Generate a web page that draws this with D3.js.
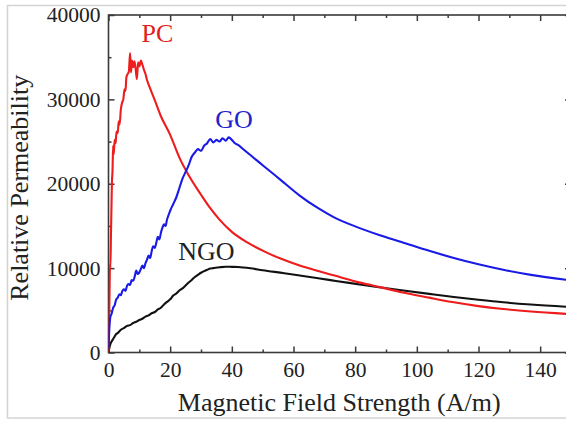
<!DOCTYPE html>
<html>
<head>
<meta charset="utf-8">
<script src="https://cdn.jsdelivr.net/npm/d3@7"></script>
<style>
  html, body { margin: 0; padding: 0; background: #fff; }
  svg { display: block; }
  text { font-family: "Liberation Serif", "Times New Roman", serif; }
</style>
</head>
<body>
<svg id="chart" width="566" height="421"></svg>
<script>
// ---- data ----
const xMajorTicks = [0, 20, 40, 60, 80, 100, 120, 140];
const xMinorTicks = [10, 30, 50, 70, 90, 110, 130, 150];
const yMajorTicks = [0, 10000, 20000, 30000, 40000];
const yMinorTicks = [5000, 15000, 25000, 35000];
const xTitle = "Magnetic Field Strength (A/m)";
const yTitle = "Relative Permeability";
const seriesNames = ["PC", "GO", "NGO"];

// PC sample: [H (A/m), relative permeability]
const pcData = [
  [0, 0], [0.3, 6000], [0.5, 10500], [0.6, 10000], [0.8, 14000], [1.0, 18000],
  [1.1, 20000], [1.3, 21500], [1.5, 24500], [1.7, 23500], [2.0, 25200], [2.3, 24800],
  [2.6, 26200], [3.0, 26000], [3.3, 27400], [3.6, 27000], [4.0, 28800], [4.4, 29600],
  [4.8, 30000], [5.2, 31200], [5.5, 31000], [5.8, 32600], [6.2, 33000], [6.6, 33300],
  [7.0, 35500], [7.3, 33200], [7.6, 34600], [8.0, 33800], [8.4, 34500], [8.8, 33600],
  [9.2, 32400], [9.6, 34400], [10.0, 33900], [10.5, 34600], [11.0, 34100], [11.5, 33500],
  [12.0, 33000], [12.5, 32300], [13.5, 31300], [15, 29900], [17, 28000], [20, 25800],
  [23, 23100], [26, 21000], [30, 18700], [33, 17100], [36, 15750], [40, 14300],
  [45, 13050], [51, 11900], [56, 11100], [62, 10300], [68, 9650], [73, 9150],
  [82, 8250], [88, 7750], [95, 7150], [104, 6500], [112, 5950], [120, 5500],
  [128, 5150], [137, 4850], [150, 4550]
];

// GO sample
const goData = [
  [0, 500], [0.3, 3000], [0.6, 4200], [1.0, 4600], [1.5, 5300], [2.0, 5600],
  [2.5, 6300], [3.0, 6500], [3.5, 6900], [4.0, 6800], [4.5, 7300], [5.0, 7500],
  [5.5, 7300], [6.0, 7900], [6.5, 8100], [7.0, 8000], [7.5, 8600], [8.0, 8500],
  [8.5, 9000], [9.0, 9700], [9.5, 9300], [10.0, 9500], [10.5, 9900], [11.0, 10300],
  [11.5, 10000], [12.0, 10600], [12.5, 11000], [13.0, 11500], [13.5, 11200], [14.0, 12000],
  [14.5, 12600], [15.0, 12400], [15.5, 13000], [16.0, 13700], [16.5, 13400], [17.0, 14200],
  [17.5, 14800], [18.0, 15200], [18.5, 15000], [19.0, 15800], [19.5, 16300], [20.0, 16800],
  [21, 17600], [22, 18400], [23, 19500], [24, 20600], [25, 21400], [26, 22200],
  [27, 23200], [28, 23700], [29, 24100], [30, 23900], [31, 24500], [32, 24800],
  [33, 25300], [34, 24900], [35, 25200], [36, 25000], [37, 25400], [38, 25100],
  [39, 25500], [40, 25200], [41, 24800], [42, 24600], [44, 24000], [46, 23400],
  [48, 22800], [50, 22200], [52, 21600], [56, 20400], [62, 18600], [68, 17100],
  [73, 16050], [80, 14950], [88, 13900], [95, 13100], [104, 12050], [112, 11200],
  [120, 10450], [128, 9800], [137, 9200], [150, 8550]
];

// NGO sample
const ngoData = [
  [0, 0], [0.3, 600], [0.6, 1000], [1.0, 1300], [1.5, 1600], [2.0, 1900],
  [2.5, 2200], [3.0, 2300], [3.5, 2500], [4.0, 2700], [5.0, 2900], [6.0, 3150],
  [7.0, 3250], [8.0, 3500], [9.0, 3650], [10, 3850], [11, 4000], [12, 4250],
  [13, 4400], [14, 4650], [15, 4800], [16, 5100], [17, 5300], [18, 5700],
  [19, 6000], [20, 6300], [21, 6750], [22, 7000], [23, 7350], [24, 7600],
  [25, 7950], [26, 8300], [27, 8600], [28, 8950], [29, 9200], [30, 9450],
  [31, 9650], [32, 9800], [33, 9950], [34, 10000], [36, 10100], [38, 10170],
  [40, 10150], [42, 10130], [46, 9980], [50, 9750], [57, 9400], [62, 9130],
  [68, 8800], [72, 8580], [78, 8250], [86, 7830], [95, 7380], [104, 6950],
  [112, 6580], [120, 6250], [128, 5950], [137, 5680], [150, 5380]
];

const seriesColors = ["#ee1c1c", "#1a1ae6", "#111111"];

// ---- drawing ----
const svg = d3.select("#chart");

// outer light border
svg.append("rect")
  .attr("x", 7.5).attr("y", 5.5)
  .attr("width", 600).attr("height", 412.5)
  .attr("fill", "none").attr("stroke", "#d4d4d4").attr("stroke-width", 1.5);

const pLeft = 108.5, pRight = 571, pTop = 15, pBottom = 352.5;

const x = d3.scaleLinear().domain([0, 150]).range([pLeft, pRight]);
const y = d3.scaleLinear().domain([0, 40000]).range([pBottom, pTop]);

svg.append("defs").append("clipPath").attr("id", "plotclip")
  .append("rect").attr("x", pLeft).attr("y", pTop)
  .attr("width", pRight - pLeft).attr("height", pBottom - pTop);

const axisColor = "#3a3a3a";
const fontTick = 21.5;

function styleAxis(g) {
  g.select(".domain").remove();
  g.selectAll(".tick line").attr("stroke", axisColor).attr("stroke-width", 1.5);
  g.selectAll(".tick text").attr("fill", "#222").style("font-size", fontTick + "px")
    .style("font-family", "'Liberation Serif', 'Times New Roman', serif");
}

// bottom
svg.append("g").attr("transform", `translate(0,${pBottom})`)
  .call(d3.axisBottom(x).tickValues(xMajorTicks).tickSize(-6).tickPadding(9).tickFormat(d3.format("d")))
  .call(styleAxis);
svg.append("g").attr("transform", `translate(0,${pBottom})`)
  .call(d3.axisBottom(x).tickValues(xMinorTicks).tickSize(-3).tickFormat(""))
  .call(styleAxis);
// top
svg.append("g").attr("transform", `translate(0,${pTop})`)
  .call(d3.axisTop(x).tickValues(xMajorTicks).tickSize(-6).tickFormat(""))
  .call(styleAxis);
svg.append("g").attr("transform", `translate(0,${pTop})`)
  .call(d3.axisTop(x).tickValues(xMinorTicks).tickSize(-3).tickFormat(""))
  .call(styleAxis);
// left
svg.append("g").attr("transform", `translate(${pLeft},0)`)
  .call(d3.axisLeft(y).tickValues(yMajorTicks).tickSize(-6).tickPadding(8).tickFormat(d3.format("d")))
  .call(styleAxis);
svg.append("g").attr("transform", `translate(${pLeft},0)`)
  .call(d3.axisLeft(y).tickValues(yMinorTicks).tickSize(-3).tickFormat(""))
  .call(styleAxis);
// right
svg.append("g").attr("transform", `translate(${pRight},0)`)
  .call(d3.axisRight(y).tickValues(yMajorTicks).tickSize(-6).tickFormat(""))
  .call(styleAxis);
svg.append("g").attr("transform", `translate(${pRight},0)`)
  .call(d3.axisRight(y).tickValues(yMinorTicks).tickSize(-3).tickFormat(""))
  .call(styleAxis);

// frame
svg.append("rect")
  .attr("x", pLeft).attr("y", pTop)
  .attr("width", pRight - pLeft).attr("height", pBottom - pTop)
  .attr("fill", "none").attr("stroke", axisColor).attr("stroke-width", 1.6);

// lines
const line = d3.line().x(d => x(d[0])).y(d => y(d[1])).curve(d3.curveMonotoneX);
const plot = svg.append("g").attr("clip-path", "url(#plotclip)");
const allData = [pcData, goData, ngoData];
[2, 0, 1].forEach(i => {
  plot.append("path").datum(allData[i])
    .attr("fill", "none")
    .attr("stroke", seriesColors[i])
    .attr("stroke-width", 2.1)
    .attr("stroke-linejoin", "round")
    .attr("d", line);
});

// series labels (positioned in data coordinates)
const labelPos = [[10.7, 36800], [34.6, 26600], [22.6, 10960]];
const labelColors = ["#e41e1e", "#2222cc", "#222222"];
seriesNames.forEach((n, i) => {
  svg.append("text")
    .attr("x", x(labelPos[i][0])).attr("y", y(labelPos[i][1]))
    .attr("fill", labelColors[i])
    .style("font-size", "26px")
    .text(n);
});

// axis titles
svg.append("text")
  .attr("x", (pLeft + pRight) / 2 - 0.5).attr("y", 411)
  .attr("text-anchor", "middle")
  .attr("fill", "#222")
  .style("font-size", "26px")
  .text(xTitle);

svg.append("text")
  .attr("transform", `translate(28,${(pTop + pBottom) / 2 + 4}) rotate(-90)`)
  .attr("text-anchor", "middle")
  .attr("fill", "#222")
  .style("font-size", "26px")
  .text(yTitle);
</script>
</body>
</html>
